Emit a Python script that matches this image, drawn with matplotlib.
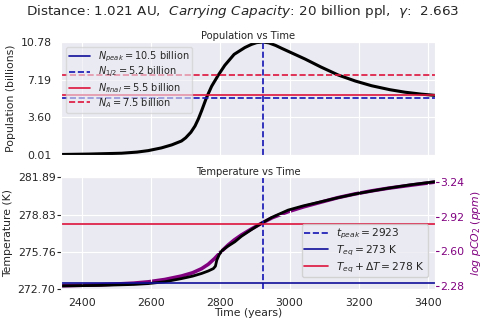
import numpy as np
import matplotlib
matplotlib.use("Agg")
import matplotlib.pyplot as plt
import seaborn as sns

sns.set_style("darkgrid")
plt.rcParams['font.family'] = ['DejaVu Sans']

# ---- data ----
pop_years = [2340, 2420, 2515, 2560, 2592, 2630, 2660, 2688, 2700, 2715, 2727, 2737, 2746,
             2760, 2775, 2794, 2813, 2840, 2871, 2890, 2905, 2923, 2940, 2960, 2977, 3010,
             3045, 3090, 3141, 3190, 3237, 3290, 3334, 3380, 3420]
population = [0.03, 0.07, 0.15, 0.26, 0.40, 0.66, 0.95, 1.32, 1.62, 2.15, 2.75, 3.45, 4.20,
              5.45, 6.55, 7.60, 8.55, 9.60, 10.25, 10.55, 10.72, 10.78, 10.70, 10.45, 10.18,
              9.68, 9.15, 8.40, 7.62, 7.05, 6.60, 6.22, 5.98, 5.80, 5.68]

temp_years = [2340, 2450, 2550, 2592, 2640, 2688, 2720, 2746, 2765, 2780, 2786, 2790, 2797,
              2804, 2820, 2842, 2861, 2890, 2919, 2950, 2996, 3040, 3093, 3140, 3189, 3240,
              3285, 3350, 3420]
temperature = [272.98, 273.02, 273.10, 273.17, 273.32, 273.58, 273.78, 274.00, 274.20, 274.40,
               274.60, 275.10, 275.55, 275.85, 276.20, 276.60, 277.05, 277.60, 278.12, 278.62,
               279.20, 279.55, 279.90, 280.22, 280.52, 280.78, 281.00, 281.28, 281.53]

co2_years = [2340, 2450, 2550, 2592, 2640, 2688, 2720, 2746, 2765, 2784, 2800, 2823, 2840,
             2861, 2890, 2919, 2950, 2996, 3040, 3093, 3140, 3189, 3240, 3285, 3350, 3420]
log_pco2 = [2.282, 2.290, 2.306, 2.318, 2.340, 2.372, 2.402, 2.440, 2.480, 2.535, 2.590, 2.660,
            2.705, 2.752, 2.808, 2.860, 2.912, 2.968, 3.012, 3.058, 3.098, 3.132, 3.162, 3.185,
            3.213, 3.242]

t_peak = 2923
N_peak_line, N_half_line, N_final_line, N_A_line = 10.78, 5.39, 5.68, 7.62
T_eq_line, T_dT_line = 273.2, 278.1

pop_ticks = [0.01, 3.60, 7.19, 10.78]
temp_ticks = [272.70, 275.76, 278.83, 281.89]
co2_ticks = [2.28, 2.60, 2.92, 3.24]
x_ticks = [2400, 2600, 2800, 3000, 3200, 3400]

pop_labels = [r"$N_{peak} = 10.5$ billion", r"$N_{1/2} = 5.2$ billion",
              r"$N_{final} = 5.5$ billion", r"$N_{A} = 7.5$ billion"]
temp_labels = [r"$t_{peak} = 2923$", r"$T_{eq} = 273$ K", r"$T_{eq} + \Delta T = 278$ K"]

# ---- figure ----
fig = plt.figure(figsize=(4.85, 3.33), dpi=100)
ax1 = fig.add_axes([0.1258, 0.5345, 0.771, 0.340])
ax2 = fig.add_axes([0.1258, 0.1312, 0.771, 0.3363])

navy = '#10109a'
dblue = '#1414b4'
red = 'crimson'
purple = 'purple'
fs = 7.8

fig.suptitle(r"Distance: 1.021 AU,  $\it{Carrying\ Capacity}$: 20 billion ppl,  $\gamma$:  2.663",
             fontsize=9.7, y=0.99, color='#262626')

# top panel
ax1.plot(pop_years, population, color='black', lw=2.2)
ax1.axhline(N_peak_line, color=navy, lw=1.2, label=pop_labels[0])
ax1.axhline(N_half_line, color=dblue, lw=1.2, ls='--', label=pop_labels[1])
ax1.axhline(N_final_line, color=red, lw=1.2, label=pop_labels[2])
ax1.axhline(N_A_line, color=red, lw=1.2, ls='--', label=pop_labels[3])
ax1.axvline(t_peak, color=dblue, lw=1.2, ls='--')
ax1.set_xlim(2340, 3420)
ax1.set_ylim(-0.02, 10.80)
ax1.set_yticks(pop_ticks)
ax1.set_yticklabels([f"{v:.2f}" for v in pop_ticks], fontsize=fs)
ax1.set_xticks(x_ticks)
ax1.set_xticklabels([])
ax1.set_ylabel("Population (billions)", fontsize=fs, labelpad=3)
ax1.set_title("Population vs Time", fontsize=7.2, pad=2)
ax1.legend(loc='upper left', fontsize=7, handlelength=2.2, borderpad=0.3,
           labelspacing=0.1, framealpha=0.6)

# bottom panel
ax2.plot(temp_years, temperature, color='black', lw=2)
ax2.axvline(t_peak, color=dblue, lw=1.2, ls='--', label=temp_labels[0])
ax2.axhline(T_eq_line, color=navy, lw=1.2, label=temp_labels[1])
ax2.axhline(T_dT_line, color=red, lw=1.2, label=temp_labels[2])
ax2.set_xlim(2340, 3420)
ax2.set_ylim(272.70, 281.89)
ax2.set_yticks(temp_ticks)
ax2.set_yticklabels([f"{v:.2f}" for v in temp_ticks], fontsize=fs)
ax2.set_xticks(x_ticks)
ax2.set_xticklabels([str(v) for v in x_ticks], fontsize=fs)
ax2.tick_params(axis='x', pad=3)
ax2.tick_params(axis='y', length=3, width=0.8, color='#262626', pad=1)
ax2.set_ylabel("Temperature (K)", fontsize=fs, labelpad=3)
ax2.set_xlabel("Time (years)", fontsize=fs, labelpad=0)
ax2.set_title("Temperature vs Time", fontsize=7.2, pad=2)

ax3 = ax2.twinx()
ax3.plot(co2_years, log_pco2, color=purple, lw=2.6)
ax3.set_ylim(2.249, 3.286)
ax3.set_yticks(co2_ticks)
ax3.set_yticklabels([f"{v:.2f}" for v in co2_ticks], fontsize=fs, color=purple)
ax3.tick_params(axis='y', length=3, width=0.8, color=purple, pad=1)
ax3.grid(False)
ax3.set_ylabel(r"$log\ pCO_2\ (ppm)$", color=purple, fontsize=fs, labelpad=3)

leg = ax2.legend(loc='lower right', bbox_to_anchor=(0.995, 0.06), fontsize=7.7,
                 handlelength=2.2, borderpad=0.25, labelspacing=0.2, framealpha=0.8)
ax2.set_zorder(ax3.get_zorder() + 1)
ax2.patch.set_visible(False)
ax3.patch.set_visible(True)
ax3.patch.set_facecolor('#EAEAF2')
ax2.grid(True, color='white')

fig.savefig("out.png", dpi=100)
